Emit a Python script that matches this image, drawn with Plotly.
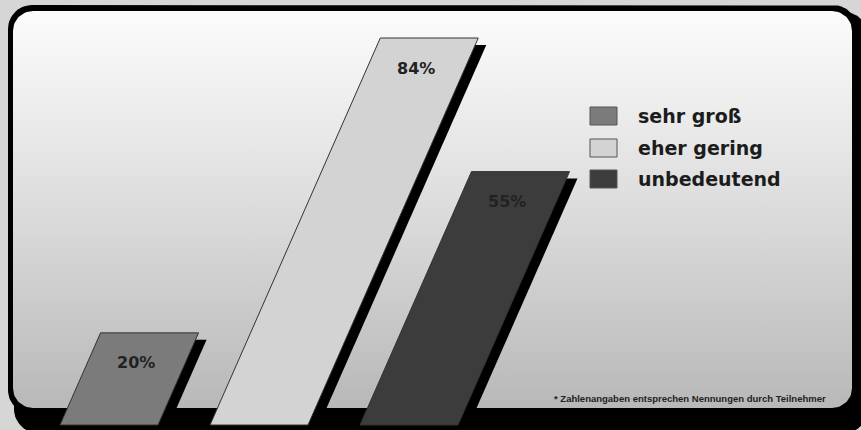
import numpy as np
import plotly.graph_objects as go

# ---- data ----
categories = ["sehr groß", "eher gering", "unbedeutend"]
values = [20, 84, 55]
value_labels = ["20%", "84%", "55%"]
footnote = "* Zahlenangaben entsprechen Nennungen durch Teilnehmer"

# ---- style ----
W, H = 861, 430
bar_colors = ["#7b7b7b", "#d3d3d3", "#3c3c3c"]
bar_left = [60, 210, 360]      # bottom-left pixel x of each slanted bar
bar_width = 98
slant = 0.44                   # horizontal px per vertical px
base_px, top_px = 425, 38      # baseline pixel and pixel of the largest value
ppu = (base_px - top_px) / max(values)
y2_range = [-(H - base_px) / ppu, base_px / ppu]
shadow_dx, shadow_dy = 8, 7 / ppu
FONT = "DejaVu Sans"


def rrect(x0, y0, x1, y1, r, n=16):
    xs, ys = [], []
    for cx, cy, a0 in [(x0 + r, y0 + r, 180), (x1 - r, y0 + r, 270),
                       (x1 - r, y1 - r, 0), (x0 + r, y1 - r, 90)]:
        a = np.radians(np.linspace(a0, a0 + 90, n))
        xs += list(cx + r * np.cos(a))
        ys += list(cy + r * np.sin(a))
    xs.append(xs[0]); ys.append(ys[0])
    return xs, ys


fig = go.Figure()

# frame (pixel axes)
sx, sy = rrect(14, 12, 868, 433, 24)
fig.add_trace(go.Scatter(x=sx, y=sy, fill="toself", fillcolor="#000000",
                         mode="lines", line=dict(width=0, color="#000"), hoverinfo="skip"))
bx, by = rrect(8, 5, 857, 414, 24)
fig.add_trace(go.Scatter(x=bx, y=by, fill="toself", fillcolor="#000000",
                         mode="lines", line=dict(width=0, color="#000"), hoverinfo="skip"))
ix, iy = rrect(13, 11, 852, 408, 20)
fig.add_trace(go.Scatter(x=ix, y=iy, fill="toself", mode="lines",
                         line=dict(width=0, color="rgba(0,0,0,0)"),
                         fillgradient=dict(type="vertical", start=11, stop=408,
                                           colorscale=[[0, "#fcfcfc"], [0.5, "#dcdcdc"], [1, "#b8b8b8"]]),
                         hoverinfo="skip"))

# bars (value axis y2)
annotations = []
for i, (cat, v) in enumerate(zip(categories, values)):
    shift = slant * v * ppu
    x0 = bar_left[i]
    px = [x0, x0 + bar_width, x0 + bar_width + shift, x0 + shift, x0]
    py = [0, 0, v, v, 0]
    fig.add_trace(go.Scatter(x=[p + shadow_dx for p in px], y=[p - shadow_dy for p in py],
                             yaxis="y2", fill="toself", fillcolor="#000000", mode="lines",
                             line=dict(width=0, color="#000"), hoverinfo="skip"))
    fig.add_trace(go.Scatter(x=px, y=py, yaxis="y2", fill="toself", fillcolor=bar_colors[i],
                             mode="lines", line=dict(width=1, color="#333333"),
                             name=cat, hoverinfo="skip"))
    ly = v - 30 / ppu
    lx = x0 + bar_width / 2 + slant * ly * ppu
    annotations.append(dict(x=lx, y=ly, xref="x", yref="y2", text=value_labels[i],
                            showarrow=False, xanchor="center", yanchor="middle",
                            font=dict(family=FONT, size=16, color="#222222", weight="bold")))

# legend
shapes = []
row_y = [116, 148, 179]
for i, cat in enumerate(categories):
    shapes.append(dict(type="rect", xref="x", yref="y", x0=590, x1=617,
                       y0=row_y[i] - 9, y1=row_y[i] + 9,
                       fillcolor=bar_colors[i], line=dict(width=1, color="#555555")))
    annotations.append(dict(x=636, y=row_y[i], xref="x", yref="y", text=cat,
                            showarrow=False, xanchor="left", yanchor="middle",
                            font=dict(family=FONT, size=19, color="#1c1c1c", weight="bold")))

annotations.append(dict(x=552, y=398, xref="x", yref="y", text=footnote, showarrow=False,
                        xanchor="left", yanchor="middle",
                        font=dict(family="Liberation Sans", size=9.5, color="#222222", weight="bold")))

fig.update_layout(
    width=W, height=H, margin=dict(l=0, r=0, t=0, b=0),
    paper_bgcolor="#d6d6d6", plot_bgcolor="#d6d6d6",
    showlegend=False,
    xaxis=dict(range=[0, W], visible=False, fixedrange=True),
    yaxis=dict(range=[H, 0], visible=False, fixedrange=True),
    yaxis2=dict(range=y2_range, overlaying="y", visible=False, fixedrange=True),
    shapes=shapes, annotations=annotations,
)

fig.write_html("out.html")
